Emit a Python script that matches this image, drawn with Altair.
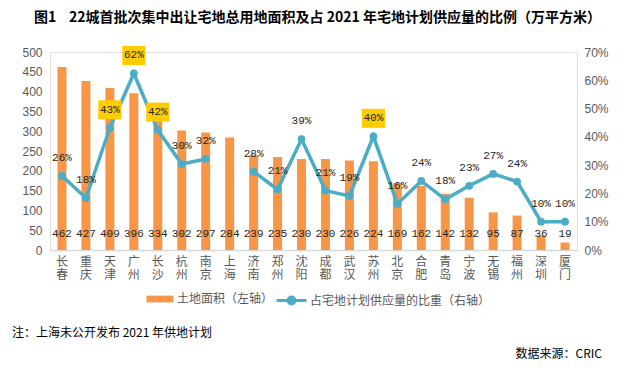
import altair as alt
import pandas as pd

cities = ["长春","重庆","天津","广州","长沙","杭州","南京","上海","济南","郑州","沈阳",
          "成都","武汉","苏州","北京","合肥","青岛","宁波","无锡","福州","深圳","厦门"]
area = [462,427,409,396,334,302,297,284,239,235,230,230,226,224,169,162,142,132,95,87,36,19]
ratio = [0.262,0.184,0.432,0.624,0.424,0.304,0.322,None,0.277,0.214,0.392,
         0.21,0.191,0.402,0.163,0.244,0.179,0.227,0.269,0.242,0.10,0.10]
highlight = ["天津","广州","长沙","苏州"]

name_bar = "土地面积（左轴）"
name_line = "占宅地计划供应量的比重（右轴）"
title_text = "图1\u00a0\u00a0\u00a0\u00a022城首批次集中出让宅地总用地面积及占 2021 年宅地计划供应量的比例（万平方米）"
note_text = "注：上海未公开发布 2021 年供地计划"
source_text = "数据来源：CRIC"

ORANGE = "#F79646"
BLUE = "#4BACC6"
YELLOW = "#FFCC00"
CJK = "Noto Sans CJK SC"
NUM = "Liberation Mono"

df = pd.DataFrame({"city": cities, "area": area, "ratio": ratio})
df["k1"] = name_bar
df["k2"] = name_line
df["hl"] = df["city"].isin(highlight)

xenc = alt.X("city:N", sort=cities, title=None,
             scale=alt.Scale(paddingInner=0, paddingOuter=0),
             axis=alt.Axis(labelAngle=0, ticks=False, domainColor="#D9D9D9", domainWidth=1.5,
                           labelColor="#595959", labelFontSize=12, labelFont=CJK,
                           labelPadding=6, labelLineHeight=13,
                           labelExpr="[substring(datum.label,0,1), substring(datum.label,1,2)]"))

base = alt.Chart(df).encode(x=xenc)

left_axis = alt.Axis(values=list(range(0, 501, 50)), domain=False, ticks=False, grid=False,
                     labelColor="#595959", labelFontSize=12, labelFont="Liberation Sans",
                     labelPadding=8)
right_axis = alt.Axis(values=[0, 0.1, 0.2, 0.3, 0.4, 0.5, 0.6, 0.7], format=".0%", domain=False,
                      ticks=False, grid=False, labelColor="#595959", labelFontSize=12,
                      labelFont="Liberation Sans", labelPadding=7, orient="right")

bars = base.mark_bar(size=9).encode(
    y=alt.Y("area:Q", scale=alt.Scale(domain=[0, 500]), axis=left_axis, title=None),
    fill=alt.Fill("k1:N", scale=alt.Scale(range=[ORANGE]),
                  legend=alt.Legend(title=None, orient="none", legendX=103, legendY=240,
                                    symbolType="M-2,-0.5L2,-0.5L2,0.5L-2,0.5Z", symbolSize=182,
                                    symbolStrokeWidth=0, labelOffset=10, labelFontSize=12,
                                    labelFont=CJK, labelColor="#595959", labelLimit=300)),
)
bar_text = base.mark_text(font=NUM, fontSize=11, color="#262626").encode(
    y=alt.value(182), text=alt.Text("area:Q"))

left = alt.layer(bars, bar_text)

yr = alt.Y("ratio:Q", scale=alt.Scale(domain=[0, 0.7]), axis=right_axis, title=None)

line = base.mark_line(strokeWidth=3.5, invalid="break-paths-show-domains").encode(
    y=yr,
    stroke=alt.Stroke("k2:N", scale=alt.Scale(range=[BLUE]),
                      legend=alt.Legend(title=None, orient="none", legendX=233, legendY=240,
                                        symbolType="M-2.2,0L2.2,0M-0.5,0A0.5,0.5,0,1,1,0.5,0A0.5,0.5,0,1,1,-0.5,0Z",
                                        symbolSize=185, symbolStrokeWidth=3,
                                        symbolFillColor=BLUE, labelOffset=10, labelFontSize=12,
                                        labelFont=CJK, labelColor="#595959", labelLimit=300)),
)
pts = base.mark_circle(size=60, opacity=1, color=BLUE).encode(y=yr)
boxes = base.transform_filter("datum.hl").mark_point(
    shape="M-1.22,-1L1.22,-1L1.22,1L-1.22,1Z", size=361, filled=True, fill=YELLOW,
    opacity=1, strokeWidth=0, yOffset=-18).encode(y=yr)
pct = base.mark_text(dy=-18, font=NUM, fontSize=11, color="#262626").encode(
    y=yr, text=alt.Text("ratio:Q", format=".0%"))

right = alt.layer(line, pts, boxes, pct)

notes = alt.Chart(pd.DataFrame({"a": [0]}))
note = notes.mark_text(text=note_text, align="left", font=CJK, fontSize=12, color="#000000").encode(
    x=alt.value(-38), y=alt.value(281))
source = notes.mark_text(text=source_text, align="right", font=CJK, fontSize=12, color="#000000").encode(
    x=alt.value(552), y=alt.value(302))

chart = alt.layer(left, right, note, source).resolve_scale(y="independent").properties(
    width=527, height=198,
    autosize=alt.AutoSizeParams(type="none"),
    padding={"left": 42, "top": 44, "right": 48, "bottom": 112},
    title=alt.TitleParams(title_text, font=CJK, fontSize=14, fontWeight="bold", color="#000000",
                          anchor="middle", offset=21, dx=4),
).configure_view(stroke=None).configure(background="white")

chart.save("out.html", embed_options={"renderer": "svg", "actions": False})
